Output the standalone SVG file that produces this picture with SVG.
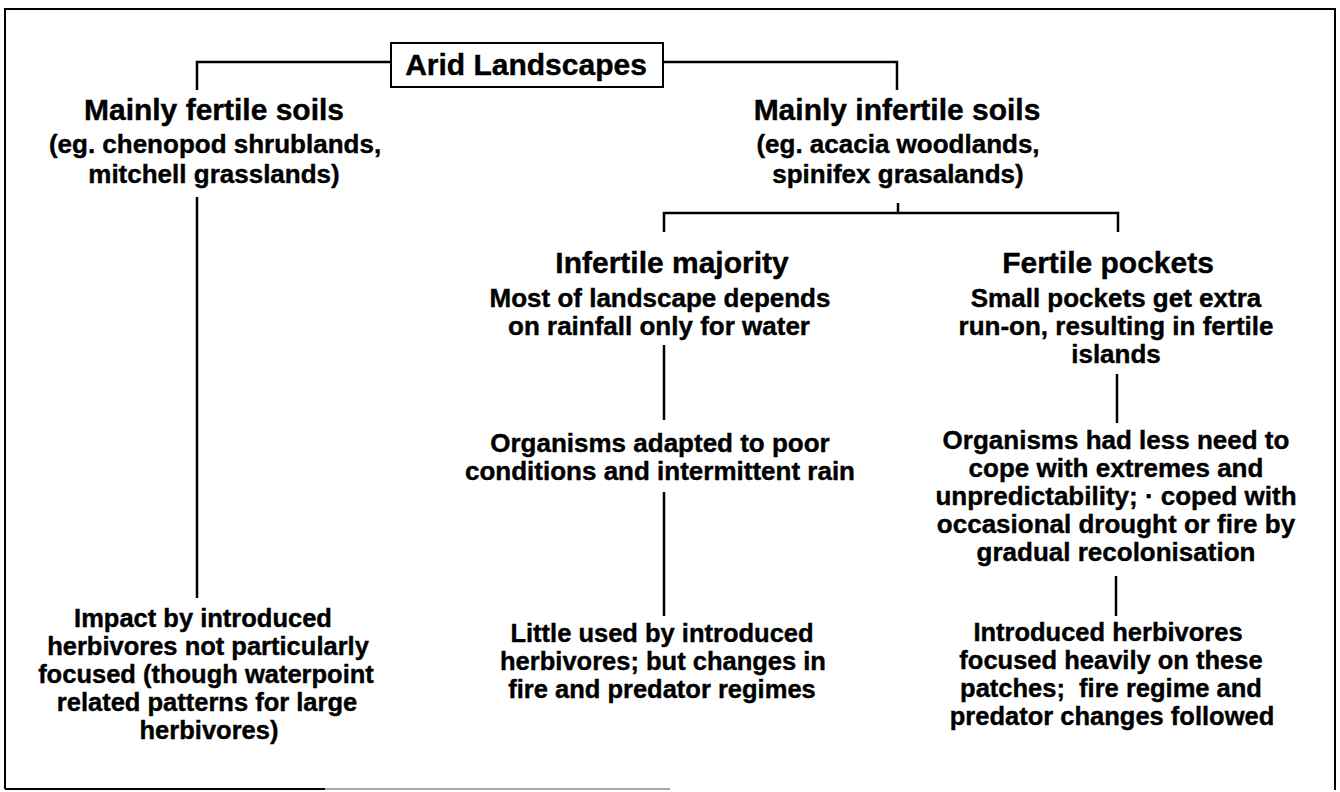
<svg xmlns="http://www.w3.org/2000/svg" width="1340" height="792" viewBox="0 0 1340 792">
<style>
  text { font-family: "Liberation Sans", Arial, sans-serif; font-weight: bold; fill: #000; stroke: #000; stroke-width: 0.4; text-anchor: middle; }
  .title { font-size: 30px; }
  .head { font-size: 30px; }
  .lsub { font-size: 26px; }
  .body { font-size: 26px; }
  .low { font-size: 25.5px; }
  .ln { stroke: #000; stroke-width: 2.5; fill: none; }
  .frame { stroke: #000; stroke-width: 2; fill: none; }
</style>
<rect x="0" y="0" width="1340" height="792" fill="#fff"/>
<g id="frame">
  <path class="frame" d="M5,789 L5,9 L1335,9 L1335,790"/>
  <line x1="5" y1="789" x2="325" y2="789" stroke="#000" stroke-width="2"/>
  <line x1="325" y1="789" x2="670" y2="789" stroke="#aaa" stroke-width="2"/>
</g>
<g id="connectors">
  <path class="ln" d="M391,62 L197,62 L197,90"/>
  <path class="ln" d="M663,62 L897,62 L897,90"/>
  <line class="ln" x1="197" y1="197" x2="197" y2="598"/>
  <line class="ln" x1="898" y1="203" x2="898" y2="213"/>
  <path class="ln" d="M664,232 L664,213 L1118,213 L1118,232"/>
  <line class="ln" x1="664" y1="345" x2="664" y2="420"/>
  <line class="ln" x1="664" y1="492" x2="664" y2="616"/>
  <line class="ln" x1="1117" y1="374" x2="1117" y2="423"/>
  <line class="ln" x1="1116" y1="576" x2="1116" y2="616"/>
</g>
<g id="arid">
  <rect x="391" y="43" width="272" height="44" fill="#fff" stroke="#000" stroke-width="2"/>
  <text class="title" x="526" y="75">Arid Landscapes</text>
</g>
<g id="fertile">
  <text class="head" x="214" y="120">Mainly fertile soils</text>
  <text class="lsub" x="215" y="153">(eg. chenopod shrublands,</text>
  <text class="lsub" x="214" y="183">mitchell grasslands)</text>
</g>
<g id="fertile-impact">
  <text class="low" x="203" y="627">Impact by introduced</text>
  <text class="low" x="208" y="655">herbivores not particularly</text>
  <text class="low" x="206" y="683">focused (though waterpoint</text>
  <text class="low" x="207" y="711">related patterns for large</text>
  <text class="low" x="209" y="739">herbivores)</text>
</g>
<g id="infertile">
  <text class="head" x="897" y="120">Mainly infertile soils</text>
  <text class="lsub" x="898" y="153">(eg. acacia woodlands,</text>
  <text class="lsub" x="898" y="183">spinifex grasalands)</text>
</g>
<g id="majority">
  <text class="head" x="672" y="273">Infertile majority</text>
  <text class="body" x="660" y="307">Most of landscape depends</text>
  <text class="body" x="659" y="335">on rainfall only for water</text>
</g>
<g id="adapted">
  <text class="body" x="660" y="452">Organisms adapted to poor</text>
  <text class="body" x="660" y="480">conditions and intermittent rain</text>
</g>
<g id="little-used">
  <text class="low" x="662" y="642">Little used by introduced</text>
  <text class="low" x="663" y="670">herbivores; but changes in</text>
  <text class="low" x="662" y="698">fire and predator regimes</text>
</g>
<g id="pockets">
  <text class="head" x="1108" y="273">Fertile pockets</text>
  <text class="body" x="1116" y="307">Small pockets get extra</text>
  <text class="body" x="1116" y="335">run-on, resulting in fertile</text>
  <text class="body" x="1116" y="363">islands</text>
</g>
<g id="less-need">
  <text class="body" x="1116" y="449">Organisms had less need to</text>
  <text class="body" x="1116" y="477">cope with extremes and</text>
  <text class="body" x="1116" y="505">unpredictability; · coped with</text>
  <text class="body" x="1116" y="533">occasional drought or fire by</text>
  <text class="body" x="1116" y="561">gradual recolonisation</text>
</g>
<g id="focused">
  <text class="low" x="1108" y="641">Introduced herbivores</text>
  <text class="low" x="1111" y="669">focused heavily on these</text>
  <text class="low" x="1111" y="697" xml:space="preserve">patches;  fire regime and</text>
  <text class="low" x="1112" y="725">predator changes followed</text>
</g>
</svg>
